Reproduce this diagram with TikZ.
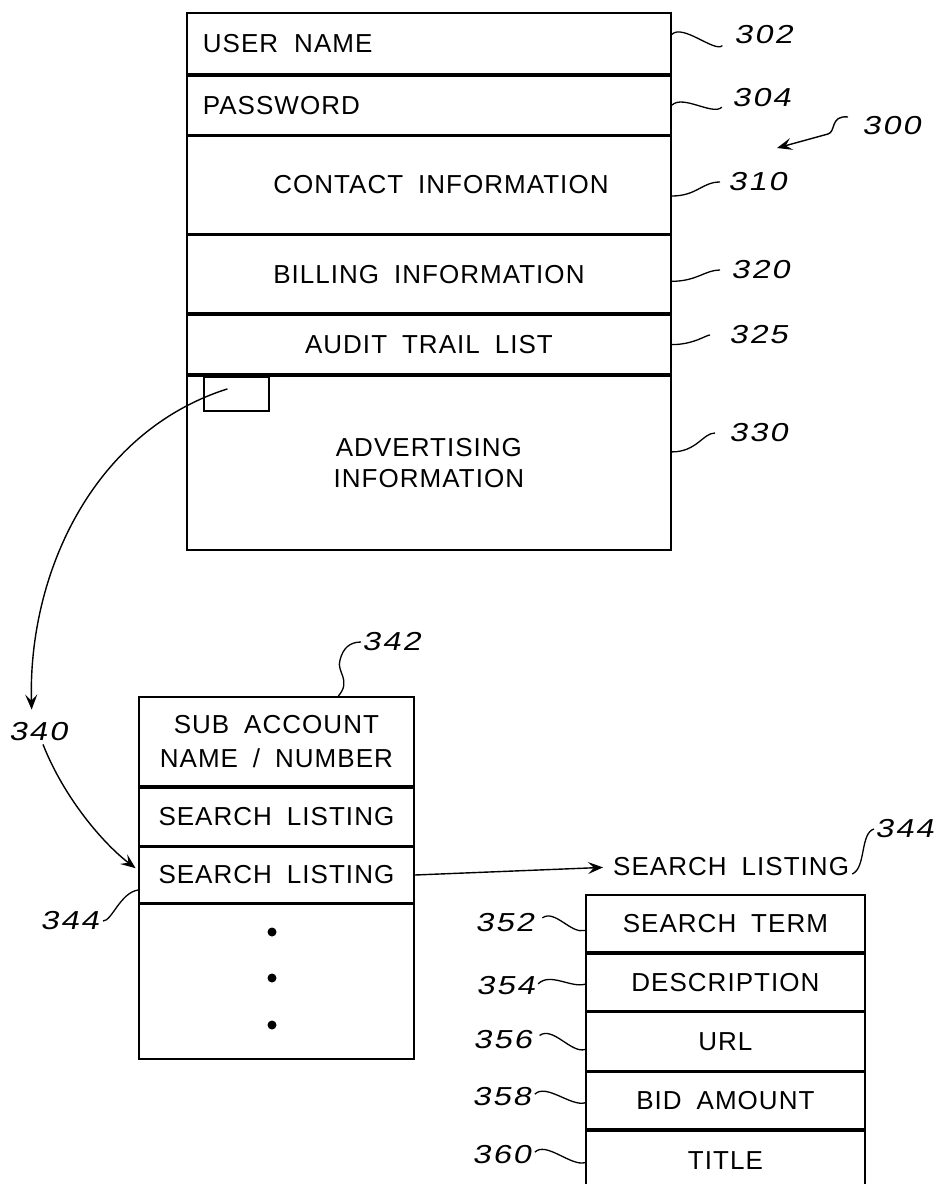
\documentclass[tikz,border=0pt]{standalone}
\usepackage{fontspec}
\usetikzlibrary{positioning,arrows.meta}

\newfontfamily\boxfont[LetterSpace=4,WordSpace=1.8]{Liberation Sans}
\newfontfamily\numfont[FakeStretch=1.25,FakeSlant=0.2,LetterSpace=8]{Liberation Sans}

\tikzset{
  cell/.style={draw, line width=1.8pt, inner sep=0pt, align=center,
    font=\boxfont\fontsize{26}{31}\selectfont},
  leftcell/.style={cell, inner xsep=16pt, text width=452pt, align=left},
  num/.style={inner sep=1pt, font=\numfont\fontsize{26}{30}\selectfont},
  lead/.style={line width=1.3pt},
  ptr/.style={line width=1.4pt, -{Stealth[length=15pt,width=12pt,inset=6pt]}}
}

\begin{document}
\begin{tikzpicture}[x=1pt, y=-1pt]
\useasboundingbox (0,0) rectangle (943,1184);

% account record 300
\node[leftcell, minimum width=484pt, minimum height=61pt, anchor=north west] (user) at (186,12) {USER\hspace*{16pt}NAME};
\node[leftcell, minimum width=484pt, minimum height=59pt, below=0pt of user] (pass) {PASSWORD};
\node[cell, minimum width=484pt, minimum height=97pt, below=0pt of pass] (contact) {\hspace*{24pt}CONTACT INFORMATION};
\node[cell, minimum width=484pt, minimum height=78pt, below=0pt of contact] (billing) {BILLING INFORMATION};
\node[cell, minimum width=484pt, minimum height=59pt, below=0pt of billing] (audit) {AUDIT TRAIL LIST};
\node[cell, minimum width=484pt, minimum height=174pt, below=0pt of audit] (advert) {ADVERTISING\\INFORMATION};
\node[draw, line width=1.8pt, inner sep=0pt, minimum width=65pt, minimum height=34pt, anchor=north west] (slot) at (203,376) {};

\node[num, anchor=west] (n302) at (733,35) {302};
\node[num, anchor=west] (n304) at (731,98) {304};
\node[num, anchor=west] (n310) at (727,182) {310};
\node[num, anchor=west] (n320) at (730,270) {320};
\node[num, anchor=west] (n325) at (728,335) {325};
\node[num, anchor=west] (n330) at (728,433) {330};
\node[num, anchor=west] (n300) at (861,126) {300};
\coordinate (p300) at (777,148);

\draw[lead, shorten >=15pt] ([yshift=9pt]user.east) .. controls +(11,-11) and +(-18,18) .. (n302.west);
\draw[lead, shorten >=13pt] (pass.east) .. controls +(11,-11) and +(-18,18) .. (n304.west);
\draw[lead, shorten >=7pt] ([yshift=-11pt]contact.east) .. controls +(25,0) and +(-25,0) .. (n310.west);
\draw[lead, shorten >=10pt] ([yshift=-7pt]billing.east) .. controls +(25,0) and +(-25,0) .. (n320.west);
\draw[lead, shorten >=18pt] (audit.east) .. controls +(22,0) and +(-22,0) .. (n325.west);
\draw[lead, shorten >=13pt] ([yshift=11pt]advert.east) .. controls +(25,0) and +(-25,0) .. (n330.west);
\draw[ptr] ([xshift=-13pt,yshift=9pt]n300.west) .. controls +(-18,-2) and +(8,-2) .. (828,134) -- (p300);

% sub account 340
\node[num] (n340) at (38,732) {340};
\draw[ptr, shorten >=12pt] ([xshift=-9pt,yshift=5pt]slot.center) .. controls (92,432) and (28,575) .. ([xshift=-6pt]n340.north);

\node[cell, minimum width=275pt, minimum height=89pt, anchor=north west] (subname) at (138,696) {SUB ACCOUNT\\[3pt]NAME / NUMBER};
\node[cell, minimum width=275pt, minimum height=58pt, below=0pt of subname] (slist1) {SEARCH LISTING};
\node[cell, minimum width=275pt, minimum height=55pt, below=0pt of slist1] (slist2) {SEARCH LISTING};
\node[cell, minimum width=275pt, minimum height=155pt, below=0pt of slist2] (more) {};
\foreach \y in {932,978,1025}
  \fill (272,\y) circle (4.5pt);

\draw[ptr, shorten >=3pt] ([xshift=5pt,yshift=-2pt]n340.south) .. controls (65,800) and (105,845) .. ([yshift=5pt]slist2.west);

\node[num, anchor=west] (n342) at (361,642) {342};
\draw[lead] ([xshift=62pt]subname.north) .. controls (352,680) and (336,672) .. (340,660) .. controls (343,648) and (350,642) .. (n342.west);
\node[num, anchor=east] (n344a) at (100,921) {344};
\draw[lead, shorten >=3pt] ([yshift=-15pt]slist2.west) .. controls +(-18,3) and +(12,0) .. (n344a.east);

% search listing 344
\node[font=\boxfont\fontsize{26}{31}\selectfont, inner sep=0pt, anchor=west] (slabel) at (613,867) {SEARCH LISTING};
\draw[ptr, shorten >=10pt] (slist2.east) -- (slabel.west);
\node[num, anchor=west] (n344b) at (874,829) {344};
\draw[lead] ([xshift=3pt,yshift=-7pt]slabel.east) .. controls +(14,-6) and +(-14,4) .. (n344b.west);

\node[cell, minimum width=279pt, minimum height=57pt, anchor=north west] (term) at (585,894) {SEARCH TERM};
\node[cell, minimum width=279pt, minimum height=57pt, below=0pt of term] (desc) {DESCRIPTION};
\node[cell, minimum width=279pt, minimum height=58pt, below=0pt of desc] (url) {URL};
\node[cell, minimum width=279pt, minimum height=57pt, below=0pt of url] (bid) {BID AMOUNT};
\node[cell, minimum width=279pt, minimum height=59pt, below=0pt of bid] (title) {TITLE};

\node[num, anchor=east] (n352) at (535,923) {352};
\node[num, anchor=east] (n354) at (536,986) {354};
\node[num, anchor=east] (n356) at (533,1040) {356};
\node[num, anchor=east] (n358) at (532,1097) {358};
\node[num, anchor=east] (n360) at (532,1155) {360};

\draw[lead, shorten <=9pt] (n352.east) .. controls +(20,-14) and +(-14,4) .. ([yshift=-7pt]term.west);
\draw[lead, shorten <=3pt] (n354.east) .. controls +(14,-14) and +(-14,4) .. ([yshift=-2pt]desc.west);
\draw[lead, shorten <=8pt] (n356.east) .. controls +(20,-14) and +(-14,4) .. ([yshift=-8pt]url.west);
\draw[lead, shorten <=4pt] (n358.east) .. controls +(14,-14) and +(-14,4) .. ([yshift=-2pt]bid.west);
\draw[lead, shorten <=4pt] (n360.east) .. controls +(14,-14) and +(-14,4) .. ([yshift=-2pt]title.west);

\end{tikzpicture}
\end{document}
